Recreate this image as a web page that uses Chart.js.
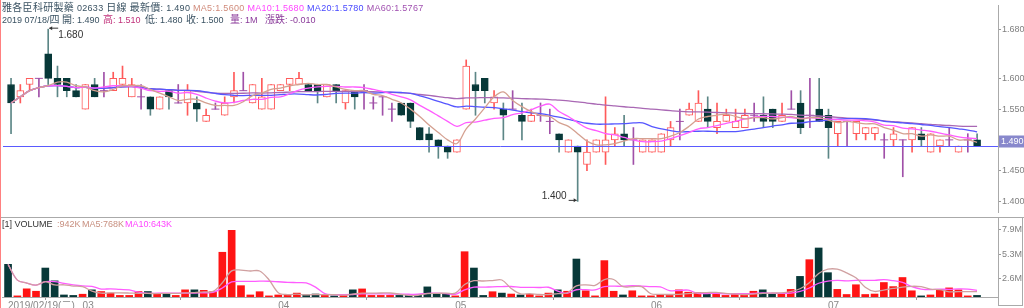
<!DOCTYPE html>
<html>
<head>
<meta charset="utf-8">
<script src="https://cdn.jsdelivr.net/npm/chart.js@4.4.1/dist/chart.umd.min.js"></script>
<style>
  body { margin: 0; width: 1024px; height: 308px; overflow: hidden; position: relative; background: #fff;
         font-family: "Liberation Sans", "Noto Sans CJK TC", sans-serif; }
  canvas { position: absolute; left: 0; }
  #priceChart { top: 0; }
  #volChart { top: 217px; }
  .hd { position: absolute; font-size: 9px; line-height: 12px; white-space: nowrap; color: #3a5262; }
  .c { font-family: "Noto Sans CJK TC", sans-serif; font-size: 10px; }
</style>
</head>
<body>
<canvas id="priceChart" width="1024" height="217"></canvas>
<canvas id="volChart" width="1024" height="91"></canvas>

<div class="hd" style="left:2px;top:1px;letter-spacing:0.3px"><span class="c">雅各臣科研製藥</span> 02633 <span class="c">日線</span> <span class="c">最新價</span>: 1.490 <span style="color:#d08a7a">MA5:1.5600</span> <span style="color:#ff44ff">MA10:1.5680</span> <span style="color:#4848ff">MA20:1.5780</span> <span style="color:#a050b0">MA60:1.5767</span></div>
<div class="hd" style="left:2px;top:13px">2019 07/18/<span class="c">四</span></div>
<div class="hd" style="left:62px;top:13px"><span class="c">開</span>: 1.490</div>
<div class="hd" style="left:103px;top:13px;color:#c0307a"><span class="c">高</span>: 1.510</div>
<div class="hd" style="left:145px;top:13px"><span class="c">低</span>: 1.480</div>
<div class="hd" style="left:186px;top:13px"><span class="c">收</span>: 1.500</div>
<div class="hd" style="left:230px;top:13px;color:#8a3a9a"><span class="c">量</span>: 1M</div>
<div class="hd" style="left:265px;top:13px;color:#8a3a9a"><span class="c">漲跌</span>: -0.010</div>
<div class="hd" style="left:2px;top:218px;color:#333">[1] VOLUME</div>
<div class="hd" style="left:57px;top:218px;color:#c89080">:942K</div>
<div class="hd" style="left:82px;top:218px;color:#c89080">MA5:768K</div>
<div class="hd" style="left:125px;top:218px;color:#ff44ff">MA10:643K</div>

<script>
// daily bars, 2019/02/19 .. 2019/07/18
const opens = [1.59,1.57,1.59,1.60,1.64,1.60,1.60,1.58,1.55,1.59,
  1.58,1.58,1.59,1.57,1.57,1.57,1.55,1.58,1.56,1.56,
  1.56,1.53,1.55,1.54,1.57,1.58,1.56,1.55,1.55,1.58,
  1.59,1.59,1.59,1.59,1.57,1.59,1.56,1.58,1.58,1.56,
  1.57,1.55,1.56,1.56,1.52,1.51,1.50,1.49,1.48,1.55,
  1.59,1.60,1.56,1.55,1.55,1.54,1.53,1.54,1.53,1.51,
  1.48,1.49,1.46,1.48,1.48,1.50,1.51,1.50,1.48,1.48,
  1.48,1.50,1.53,1.54,1.53,1.55,1.52,1.53,1.52,1.52,
  1.54,1.54,1.55,1.53,1.55,1.56,1.54,1.55,1.54,1.51,
  1.53,1.51,1.51,1.51,1.50,1.50,1.50,1.50,1.51,1.48,
  1.49,1.50,1.48,1.50,1.50];
const highs = [1.60,1.59,1.60,1.60,1.68,1.62,1.60,1.59,1.59,1.60,
  1.61,1.61,1.62,1.60,1.59,1.57,1.57,1.58,1.59,1.59,
  1.57,1.55,1.56,1.57,1.61,1.61,1.59,1.60,1.59,1.59,
  1.60,1.61,1.59,1.59,1.59,1.59,1.58,1.58,1.59,1.57,
  1.57,1.56,1.56,1.56,1.52,1.52,1.50,1.49,1.50,1.63,
  1.61,1.60,1.58,1.56,1.58,1.56,1.55,1.56,1.55,1.51,
  1.50,1.49,1.50,1.50,1.57,1.52,1.54,1.52,1.50,1.50,
  1.51,1.53,1.55,1.56,1.58,1.57,1.56,1.55,1.55,1.55,
  1.56,1.57,1.55,1.56,1.58,1.58,1.60,1.60,1.55,1.53,
  1.53,1.53,1.52,1.52,1.51,1.52,1.50,1.52,1.52,1.51,
  1.50,1.52,1.49,1.51,1.51];
const lows = [1.51,1.56,1.58,1.57,1.59,1.57,1.57,1.57,1.55,1.57,
  1.57,1.58,1.59,1.57,1.55,1.54,1.55,1.55,1.56,1.54,
  1.53,1.53,1.55,1.54,1.56,1.58,1.56,1.55,1.55,1.58,
  1.58,1.59,1.58,1.56,1.57,1.56,1.55,1.55,1.55,1.55,
  1.54,1.53,1.54,1.52,1.50,1.48,1.47,1.47,1.48,1.55,
  1.54,1.56,1.55,1.50,1.55,1.50,1.53,1.53,1.51,1.48,
  1.48,1.40,1.45,1.48,1.46,1.49,1.49,1.46,1.48,1.48,
  1.48,1.49,1.50,1.54,1.53,1.52,1.51,1.53,1.52,1.52,
  1.53,1.52,1.52,1.53,1.55,1.51,1.52,1.53,1.47,1.49,
  1.49,1.50,1.50,1.50,1.47,1.49,1.44,1.48,1.49,1.48,
  1.48,1.49,1.48,1.48,1.49];
const closes = [1.56,1.58,1.60,1.60,1.60,1.59,1.58,1.57,1.59,1.57,
  1.58,1.60,1.60,1.59,1.57,1.55,1.57,1.57,1.56,1.58,
  1.55,1.54,1.55,1.56,1.58,1.58,1.59,1.57,1.59,1.59,
  1.60,1.60,1.58,1.58,1.59,1.58,1.58,1.57,1.58,1.56,
  1.57,1.55,1.54,1.53,1.50,1.50,1.49,1.48,1.50,1.62,
  1.58,1.58,1.57,1.54,1.55,1.53,1.54,1.54,1.53,1.50,
  1.50,1.48,1.48,1.50,1.50,1.51,1.50,1.50,1.50,1.50,
  1.51,1.52,1.53,1.55,1.56,1.53,1.53,1.54,1.53,1.54,
  1.54,1.53,1.53,1.54,1.55,1.52,1.54,1.53,1.52,1.53,
  1.53,1.53,1.52,1.52,1.50,1.51,1.50,1.52,1.50,1.51,
  1.50,1.50,1.49,1.50,1.49];
// volume, millions of shares
const volumes = [4.2,0.8,1.56,1.3,3.8,2.42,0.9,0.85,0.98,1.45,
  1.27,1.1,0.85,0.85,1.27,1.27,1.0,1.0,0.85,1.45,
  1.45,1.4,1.25,5.5,7.86,1.9,0.9,1.25,0.8,0.9,
  0.85,1.1,0.9,1.0,0.85,0.8,0.85,1.45,1.55,0.85,
  0.85,0.85,0.85,0.85,0.9,1.77,1.0,1.0,0.8,5.56,
  3.8,0.85,1.25,1.1,1.0,0.9,0.95,0.8,1.1,1.45,
  1.3,4.77,1.35,0.8,4.6,1.3,0.9,1.35,0.8,0.8,
  0.95,0.85,1.45,1.2,1.15,1.1,1.0,0.85,0.95,0.85,
  1.3,1.45,1.0,1.0,1.5,2.9,4.7,5.96,3.3,1.5,
  0.95,2.0,0.95,1.0,2.24,1.8,2.78,1.35,0.8,0.9,
  1.5,1.66,1.45,0.8,0.85];

const monthTicks = [[0, "2019/02/19(二)"], [8, "03"], [29, "04"], [48, "05"], [69, "06"], [88, "07"]];
const priceTicks = [1.40, 1.45, 1.55, 1.60, 1.68];
const volTicks = [2.63, 5.27, 7.9];

const X_MIN = -0.65, X_MAX = 106.25;
const UP = "#ff5a5a", DOWN = "#073838", DOWN_WICK = "#5c8686", DOJI = "#a050a8";

Chart.defaults.font.family = '"Liberation Sans", "Noto Sans CJK TC", sans-serif';
Chart.defaults.font.size = 9;

const kind = closes.map((c, i) => c > opens[i] ? "up" : (c < opens[i] ? "down" : "doji"));
const lastPrice = closes[closes.length - 1];

function movingAvg(arr, len) {
  return arr.map((_, i) => {
    const win = arr.slice(Math.max(0, i - len + 1), i + 1);
    return { x: i, y: win.reduce((a, b) => a + b, 0) / win.length };
  });
}

function maLine(arr, len, color) {
  return { type: "line", data: movingAvg(arr, len), borderColor: color, borderWidth: 1.3,
           pointRadius: 0, tension: 0.35, order: 0 };
}

// fixed axis sizes, no extra padding from the tick labels
function fixWidth(s) { s.width = 26; s.paddingTop = 0; s.paddingBottom = 0; }
function fixHeight(s) { s.height = 11; s.paddingLeft = 0; s.paddingRight = 0; }

const priceDecor = {
  id: "priceDecor",
  afterDatasetsDraw(chart) {
    const { ctx, chartArea: a, scales: { x, y } } = chart;
    ctx.save();
    // last price line
    const py = Math.round(y.getPixelForValue(lastPrice)) + 0.5;
    ctx.strokeStyle = "#5a5aff";
    ctx.lineWidth = 1;
    ctx.beginPath(); ctx.moveTo(a.left - 2, py); ctx.lineTo(a.right, py); ctx.stroke();
    // high / low markers
    const hi = Math.max(...highs), lo = Math.min(...lows);
    const hx = x.getPixelForValue(highs.indexOf(hi)), hy = y.getPixelForValue(hi) - 1;
    const lx = x.getPixelForValue(lows.indexOf(lo)), ly = y.getPixelForValue(lo) - 1;
    ctx.strokeStyle = "#333"; ctx.fillStyle = "#333";
    ctx.beginPath(); ctx.moveTo(hx + 1, hy); ctx.lineTo(hx + 10, hy); ctx.stroke();
    ctx.beginPath(); ctx.moveTo(hx + 1, hy); ctx.lineTo(hx + 4, hy - 2); ctx.lineTo(hx + 4, hy + 2); ctx.fill();
    ctx.beginPath(); ctx.moveTo(lx - 9, ly); ctx.lineTo(lx - 1, ly); ctx.stroke();
    ctx.beginPath(); ctx.moveTo(lx - 1, ly); ctx.lineTo(lx - 4, ly - 2); ctx.lineTo(lx - 4, ly + 2); ctx.fill();
    ctx.font = '10px "Liberation Sans", sans-serif';
    ctx.textBaseline = "middle";
    ctx.textAlign = "left";
    ctx.fillText(hi.toFixed(3), hx + 10, hy + 7);
    ctx.textAlign = "right";
    ctx.fillText(lo.toFixed(3), lx - 11, ly - 4);
    // last price tag
    ctx.fillStyle = "#8888cc";
    ctx.fillRect(a.right + 1, py - 11, 25, 12);
    ctx.fillStyle = "#fff";
    ctx.textAlign = "left";
    ctx.font = '9px "Liberation Sans", sans-serif';
    ctx.fillText(lastPrice.toFixed(3), a.right + 3, py - 5);
    // frame
    ctx.strokeStyle = "#ff8080";
    ctx.beginPath(); ctx.moveTo(0.5, 0); ctx.lineTo(0.5, chart.height); ctx.stroke();
    ctx.restore();
  }
};

new Chart(document.getElementById("priceChart"), {
  type: "bar",
  data: {
    datasets: [
      maLine(closes, 5, "#d4a090"),
      maLine(closes, 10, "#ff5cff"),
      maLine(closes, 20, "#5656ff"),
      maLine(closes, 60, "#a968b4"),
      {
        type: "line", showLine: false, order: 1,
        data: closes.map((c, i) => ({ x: i, y: c })).filter(p => kind[p.x] === "doji"),
        pointStyle: "line", pointRadius: 4, borderColor: DOJI, borderWidth: 1
      },
      {
        data: opens.map((o, i) => ({ x: i, y: [o, closes[i]] })).filter(p => kind[p.x] !== "doji"),
        order: 2, grouped: false, barThickness: 7, borderWidth: 1, borderSkipped: false,
        backgroundColor: ctx => kind[ctx.raw ? ctx.raw.x : 0] === "up" ? "#fff" : DOWN,
        borderColor: ctx => kind[ctx.raw ? ctx.raw.x : 0] === "up" ? UP : DOWN
      },
      {
        data: lows.map((l, i) => ({ x: i, y: [l, highs[i]] })),
        order: 3, grouped: false, barThickness: 1, borderWidth: 0,
        backgroundColor: ctx => {
          const k = kind[ctx.raw ? ctx.raw.x : 0];
          return k === "up" ? UP : (k === "down" ? DOWN_WICK : DOJI);
        }
      }
    ]
  },
  options: {
    responsive: false,
    animation: false,
    layout: { padding: { left: 2, top: 2, bottom: 1, right: 0 } },
    plugins: { legend: { display: false }, tooltip: { enabled: false } },
    scales: {
      x: { type: "linear", offset: false, min: X_MIN, max: X_MAX, display: false },
      y: {
        position: "right", min: 1.3827, max: 1.7193,
        afterBuildTicks: s => { s.ticks = priceTicks.map(v => ({ value: v })); },
        afterFit: fixWidth,
        ticks: { color: "#808080", padding: 1, callback: v => Number(v).toFixed(3) },
        grid: { drawOnChartArea: false, tickLength: 3, color: "#999" },
        border: { color: "#aaa" }
      }
    }
  },
  plugins: [priceDecor]
});

const volDecor = {
  id: "volDecor",
  afterDraw(chart) {
    const { ctx, chartArea: a } = chart;
    ctx.save();
    ctx.strokeStyle = "#aaa";
    ctx.lineWidth = 1;
    ctx.beginPath(); ctx.moveTo(0, 0.5); ctx.lineTo(chart.width, 0.5); ctx.stroke();
    ctx.strokeRect(a.right + 0.5, 0.5, 24, 88);
    ctx.strokeStyle = "#ff8080";
    ctx.beginPath(); ctx.moveTo(0.5, 0); ctx.lineTo(0.5, chart.height); ctx.stroke();
    ctx.restore();
  }
};

new Chart(document.getElementById("volChart"), {
  type: "bar",
  data: {
    datasets: [
      maLine(volumes, 5, "#d0a0a0"),
      maLine(volumes, 10, "#ff5cff"),
      {
        data: volumes.map((v, i) => ({ x: i, y: v })),
        order: 2, barThickness: 7, borderWidth: 0,
        backgroundColor: ctx => kind[ctx.raw ? ctx.raw.x : 0] === "down" ? DOWN : "#ff1414"
      }
    ]
  },
  options: {
    responsive: false,
    animation: false,
    layout: { padding: { left: 2, top: 1, bottom: 0, right: 0 } },
    plugins: { legend: { display: false }, tooltip: { enabled: false } },
    scales: {
      x: {
        type: "linear", offset: false, min: X_MIN, max: X_MAX,
        afterBuildTicks: s => { s.ticks = monthTicks.map(t => ({ value: t[0] })); },
        afterFit: fixHeight,
        ticks: {
          autoSkip: false, maxRotation: 0, align: "start", padding: 0, color: "#888",
          font: { size: 10 },
          callback: v => { const m = monthTicks.find(t => t[0] === v); return m ? m[1] : ""; }
        },
        grid: { drawOnChartArea: false, tickLength: 3, color: "#999" },
        border: { color: "#aaa" }
      },
      y: {
        position: "right", min: 0.68, max: 9.19,
        afterBuildTicks: s => { s.ticks = volTicks.map(v => ({ value: v })); },
        afterFit: fixWidth,
        ticks: { color: "#808080", padding: 1, callback: v => Number(v).toFixed(1) + "M" },
        grid: { drawOnChartArea: false, tickLength: 3, color: "#999" },
        border: { color: "#aaa" }
      }
    }
  },
  plugins: [volDecor]
});
</script>
</body>
</html>
